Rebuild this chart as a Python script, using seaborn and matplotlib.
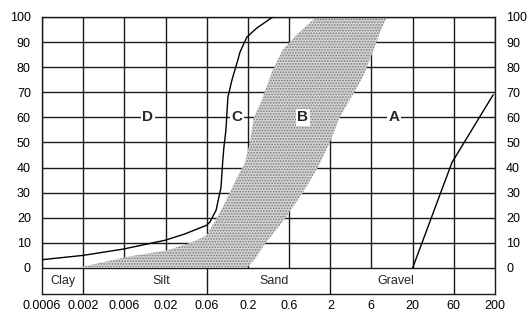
import matplotlib
matplotlib.use("Agg")
import matplotlib.pyplot as plt
import seaborn as sns
import pandas as pd

# Grain size (mm) ticks and labels
size_ticks = [0.00063, 0.002, 0.0063, 0.02, 0.063, 0.2, 0.63, 2, 6.3, 20, 63, 200]
size_labels = ["0.0006", "0.002", "0.006", "0.02", "0.06", "0.2", "0.6",
               "2", "6", "20", "60", "200"]
pct_ticks = list(range(0, 101, 10))

# Soil class band below the chart
class_names = ["Clay", "Silt", "Sand", "Gravel"]
class_centers = [0.00112, 0.0175, 0.42, 12.5]
class_bounds = [0.002, 0.063, 2, 63]

# Curve bounding zones C / D
curve_size = [0.0006, 0.002, 0.0061, 0.0196, 0.034, 0.063, 0.069, 0.082,
              0.094, 0.099, 0.102, 0.108, 0.114, 0.128, 0.151, 0.160, 0.194,
              0.256, 0.40]
curve_pct = [3.2, 5, 7.5, 11, 13.5, 17, 18.3, 23, 32, 43, 48, 55, 68, 75,
             83, 86, 92, 95.6, 100]

# Zone B envelope
band_left_size = [0.0017, 0.0068, 0.021, 0.043, 0.063, 0.084, 0.105, 0.147,
                  0.184, 0.211, 0.236, 0.295, 0.39, 0.53, 0.785, 1.35]
band_left_pct = [0, 4.4, 7, 10.4, 13, 20, 26, 36, 42, 50, 60, 67, 78, 87, 93,
                 100]
band_right_size = [0.194, 0.249, 0.312, 0.546, 0.927, 1.41, 1.97, 2.61, 3.45,
                   4.96, 6.38, 7.98, 9.70]
band_right_pct = [0, 4, 9, 19, 30, 40, 50, 60, 67, 76, 85, 93.6, 100]

# Line bounding zone A
line_a_size = [20, 60, 190]
line_a_pct = [0, 42, 69]

# Zone labels
zone_names = ["D", "C", "B", "A"]
zone_size = [0.0122, 0.147, 0.93, 11.8]
zone_pct = 60

sns.set_style("white")
plt.rcParams["font.family"] = ["Liberation Sans", "DejaVu Sans"]

fig = plt.figure(figsize=(5.28, 3.13), dpi=100)
ax = fig.add_axes([0.0795, 0.0607, 0.858, 0.885])
ax.set_xscale("log")
ax.set_xlim(10 ** -3.2, 200)
ax.set_ylim(-10.4, 100)

# grid
ax.hlines(pct_ticks, 10 ** -3.2, 200, color="#1a1a1a", lw=1.0, zorder=1)
ax.vlines(size_ticks, 0, 100, color="#1a1a1a", lw=1.0, zorder=1)
ax.vlines(class_bounds, -10.4, 0, color="#1a1a1a", lw=1.0, zorder=1)

# zone B shaded envelope
band_x = band_left_size + band_right_size[::-1]
band_y = band_left_pct + band_right_pct[::-1]
plt.rcParams["hatch.linewidth"] = 0.8
ax.fill(band_x, band_y, facecolor="#d4d4d4", edgecolor="#7a7a7a",
        hatch="......", linewidth=0, zorder=2)

# curves
curve_df = pd.DataFrame({"size": curve_size, "pct": curve_pct})
sns.lineplot(data=curve_df, x="size", y="pct", sort=False, color="black",
             lw=1.0, ax=ax, zorder=3)
line_df = pd.DataFrame({"size": line_a_size, "pct": line_a_pct})
sns.lineplot(data=line_df, x="size", y="pct", sort=False, color="black",
             lw=1.0, ax=ax, zorder=3)

for name, x in zip(zone_names, zone_size):
    ax.text(x, zone_pct, name, ha="center", va="center", fontsize=11,
            fontweight="bold", zorder=4,
            bbox=dict(facecolor="white", edgecolor="none", pad=1.2))

for name, x in zip(class_names, class_centers):
    ax.text(x, -5.4, name, ha="center", va="center", fontsize=9, zorder=4)

ax.set_xticks(size_ticks)
ax.set_xticklabels(size_labels)
ax.minorticks_off()
ax.set_yticks(pct_ticks)
ax.tick_params(axis="both", length=0, labelsize=9, colors="black")
ax.tick_params(axis="y", labelright=True, pad=8)
ax.tick_params(axis="x", pad=4)
ax.set_xlabel("")
ax.set_ylabel("")

for sp in ax.spines.values():
    sp.set_color("#1a1a1a")
    sp.set_linewidth(1.0)

fig.savefig("out.png", dpi=100)
